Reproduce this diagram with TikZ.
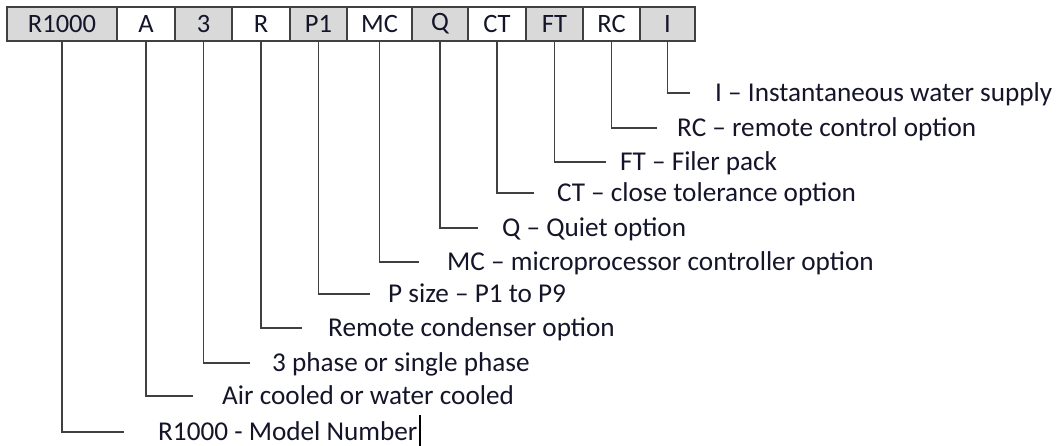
\documentclass[tikz,border=0pt]{standalone}
\usepackage{fontspec}
\setmainfont{Carlito}
\definecolor{boxgray}{HTML}{D9D9D9}
\definecolor{linegray}{HTML}{404040}
\definecolor{txt}{HTML}{15152A}
\begin{document}
\begin{tikzpicture}[x=1pt,y=-1pt,
  box/.style={draw=linegray, line width=1.3pt, minimum height=34pt, inner sep=0pt, text=txt, font=\fontsize{26.5}{30}\selectfont},
  gbox/.style={box, fill=boxgray},
  wbox/.style={box, fill=white},
  lbl/.style={anchor=west, inner sep=0pt, text=txt, text height=17pt, text depth=0pt, font=\fontsize{27.2}{31}\selectfont},
  conn/.style={draw=linegray, line width=1.4pt}]
\useasboundingbox (0,0) rectangle (1062,446);
% boxes
\node[gbox, minimum width=110pt] (b1) at (62,24) {R1000};
\node[wbox, minimum width=58pt] (b2) at (146,24) {A};
\node[gbox, minimum width=57pt] (b3) at (203.5,24) {3};
\node[wbox, minimum width=58pt] (b4) at (261,24) {R};
\node[gbox, minimum width=57pt] (b5) at (318.5,24) {P1};
\node[wbox, minimum width=65pt] (b6) at (379.5,24) {MC};
\node[gbox, minimum width=56pt] (b7) at (440,24) {Q};
\node[wbox, minimum width=58pt] (b8) at (497,24) {CT};
\node[gbox, minimum width=57pt] (b9) at (554.5,24) {FT};
\node[wbox, minimum width=57pt] (b10) at (611.5,24) {RC};
\node[gbox, minimum width=55pt] (b11) at (667.5,24) {I};
% labels
\node[lbl] (l11) at (715,93) {I – Instantaneous water supply};
\node[lbl] (l10) at (677,128) {RC – remote control option};
\node[lbl] (l9) at (620,162) {FT – Filer pack};
\node[lbl] (l8) at (557,193) {CT – close tolerance option};
\node[lbl] (l7) at (502,228) {Q – Quiet option};
\node[lbl] (l6) at (447,262) {MC – microprocessor controller option};
\node[lbl] (l5) at (388,294) {P size – P1 to P9};
\node[lbl] (l4) at (328,328) {Remote condenser option};
\node[lbl] (l3) at (272,363) {3 phase or single phase};
\node[lbl] (l2) at (222,396) {Air cooled or water cooled};
\node[lbl] (l1) at (158,432) {R1000 - Model Number};
% line ends
\coordinate (e11) at (690,93);
\coordinate (e10) at (657,128);
\coordinate (e9) at (606,162);
\coordinate (e8) at (534,193);
\coordinate (e7) at (478,228);
\coordinate (e6) at (419,262);
\coordinate (e5) at (370,294);
\coordinate (e4) at (302,328);
\coordinate (e3) at (250,363);
\coordinate (e2) at (193,396);
\coordinate (e1) at (124,432);
\foreach \i in {1,...,11} {
  \draw[conn] (b\i.south) |- (e\i);
}
% text cursor
\coordinate (c1) at (l1.east);
\draw[line width=2pt, black] ([xshift=2pt,yshift=17pt]c1) -- ([xshift=2pt,yshift=-14pt]c1);
\end{tikzpicture}
\end{document}
